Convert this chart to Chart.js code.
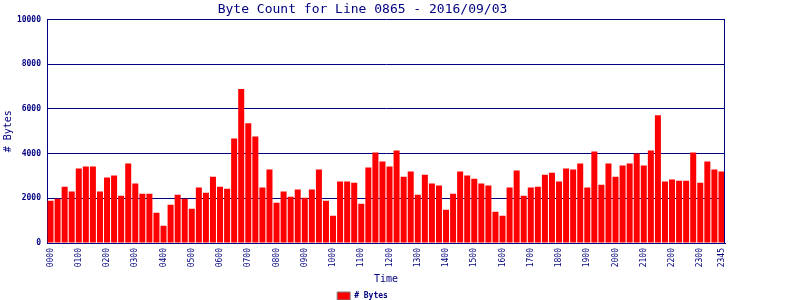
<!DOCTYPE html>
<html>
<head>
<meta charset="utf-8">
<script src="https://cdn.jsdelivr.net/npm/chart.js@4/dist/chart.umd.min.js"></script>
<style>
  html, body { margin: 0; padding: 0; background: #fff; }
  #wrap { width: 800px; height: 300px; }
</style>
</head>
<body>
<div id="wrap"><canvas id="byteChart" width="800" height="300"></canvas></div>
<script>
// Quarter-hour slots for the day
const timeSlots = [
  '0000','0015','0030','0045','0100','0115','0130','0145',
  '0200','0215','0230','0245','0300','0315','0330','0345',
  '0400','0415','0430','0445','0500','0515','0530','0545',
  '0600','0615','0630','0645','0700','0715','0730','0745',
  '0800','0815','0830','0845','0900','0915','0930','0945',
  '1000','1015','1030','1045','1100','1115','1130','1145',
  '1200','1215','1230','1245','1300','1315','1330','1345',
  '1400','1415','1430','1445','1500','1515','1530','1545',
  '1600','1615','1630','1645','1700','1715','1730','1745',
  '1800','1815','1830','1845','1900','1915','1930','1945',
  '2000','2015','2030','2045','2100','2115','2130','2145',
  '2200','2215','2230','2245','2300','2315','2330','2345'
];

// Labels shown on the time axis
const shownTimes = [
  '0000','0100','0200','0300','0400','0500','0600','0700','0800','0900',
  '1000','1100','1200','1300','1400','1500','1600','1700','1800','1900',
  '2000','2100','2200','2300','2345'
];

// # Bytes per slot
const byteCounts = [
  1890, 1980, 2520, 2300, 3330, 3420, 3420, 2300,
  2930, 3020, 2120, 3560, 2660, 2210, 2210, 1350,
  770, 1710, 2160, 1980, 1530, 2480, 2250, 2970,
  2520, 2430, 4680, 6890, 5360, 4770, 2480, 3290,
  1800, 2300, 2070, 2390, 2030, 2390, 3290, 1890,
  1220, 2750, 2750, 2700, 1760, 3380, 4050, 3650,
  3420, 4140, 2970, 3200, 2160, 3060, 2660, 2570,
  1490, 2210, 3200, 3020, 2880, 2660, 2570, 1400,
  1220, 2480, 3240, 2120, 2480, 2520, 3060, 3150,
  2750, 3330, 3290, 3560, 2480, 4100, 2610, 3560,
  2970, 3470, 3560, 4010, 3470, 4140, 5720, 2750,
  2840, 2790, 2790, 4050, 2700, 3650, 3290, 3200
];

const yTicks = [0, 2000, 4000, 6000, 8000, 10000];

const NAVY = '#000080';
const MONO = "'DejaVu Sans Mono', 'Liberation Mono', monospace";

// Right edge of the plot box (top edge comes from the 10000 grid line)
const frame = {
  id: 'frame',
  afterDatasetsDraw(chart) {
    const { ctx, chartArea: a } = chart;
    const r = Math.round(a.right) - 0.5;
    ctx.save();
    ctx.strokeStyle = NAVY;
    ctx.lineWidth = 1;
    ctx.beginPath();
    ctx.moveTo(r, a.top);
    ctx.lineTo(r, a.bottom);
    ctx.stroke();
    ctx.restore();
  }
};

document.addEventListener('DOMContentLoaded', () => {
  const ctx = document.getElementById('byteChart');
  new Chart(ctx, {
    type: 'bar',
    data: {
      labels: timeSlots,
      datasets: [{
        label: '# Bytes',
        data: byteCounts,
        backgroundColor: '#ff0000',
        borderWidth: 0,
        barPercentage: 0.85,
        categoryPercentage: 1
      }]
    },
    options: {
      responsive: false,
      animation: false,
      layout: { padding: { left: 0, right: 75, top: 0, bottom: -10 } },
      plugins: {
        title: {
          display: true,
          text: 'Byte Count for Line 0865 - 2016/09/03',
          color: NAVY,
          font: { family: MONO, size: 13, weight: 'normal' },
          padding: { top: 2, bottom: 2 }
        },
        legend: {
          position: 'bottom',
          labels: {
            color: NAVY,
            font: { family: MONO, size: 8, weight: 'bold' },
            boxWidth: 13,
            boxHeight: 8,
            padding: 2,
            generateLabels: (chart) => [{
              text: chart.data.datasets[0].label,
              fillStyle: '#ff0000',
              strokeStyle: '#808080',
              lineWidth: 1,
              fontColor: NAVY,
              datasetIndex: 0
            }]
          }
        },
        tooltip: { enabled: false }
      },
      scales: {
        x: {
          grid: { display: false, drawTicks: false },
          border: { color: NAVY, width: 1 },
          ticks: {
            color: NAVY,
            font: { family: MONO, size: 8 },
            autoSkip: false,
            minRotation: 90,
            maxRotation: 90,
            padding: 5,
            callback: function (value) {
              const t = this.getLabelForValue(value);
              return shownTimes.includes(t) ? t : '';
            }
          },
          title: {
            display: true,
            text: 'Time',
            color: NAVY,
            font: { family: MONO, size: 10 },
            padding: { top: 0, bottom: 5 }
          },
          afterFit: (scale) => { scale.height = 47; }
        },
        y: {
          min: 0,
          max: 10000,
          afterBuildTicks: (scale) => { scale.ticks = yTicks.map(v => ({ value: v })); },
          grid: { color: NAVY, lineWidth: 1, drawTicks: false },
          border: { color: NAVY, width: 1 },
          ticks: {
            color: NAVY,
            font: { family: MONO, size: 8, weight: 'bold' },
            padding: 6,
            callback: (v) => String(v)
          },
          title: {
            display: true,
            text: '# Bytes',
            color: NAVY,
            font: { family: MONO, size: 10 },
            padding: { top: 2, bottom: 0 }
          },
          afterFit: (scale) => { scale.width = 47; }
        }
      }
    },
    plugins: [frame]
  });
});
</script>
</body>
</html>
